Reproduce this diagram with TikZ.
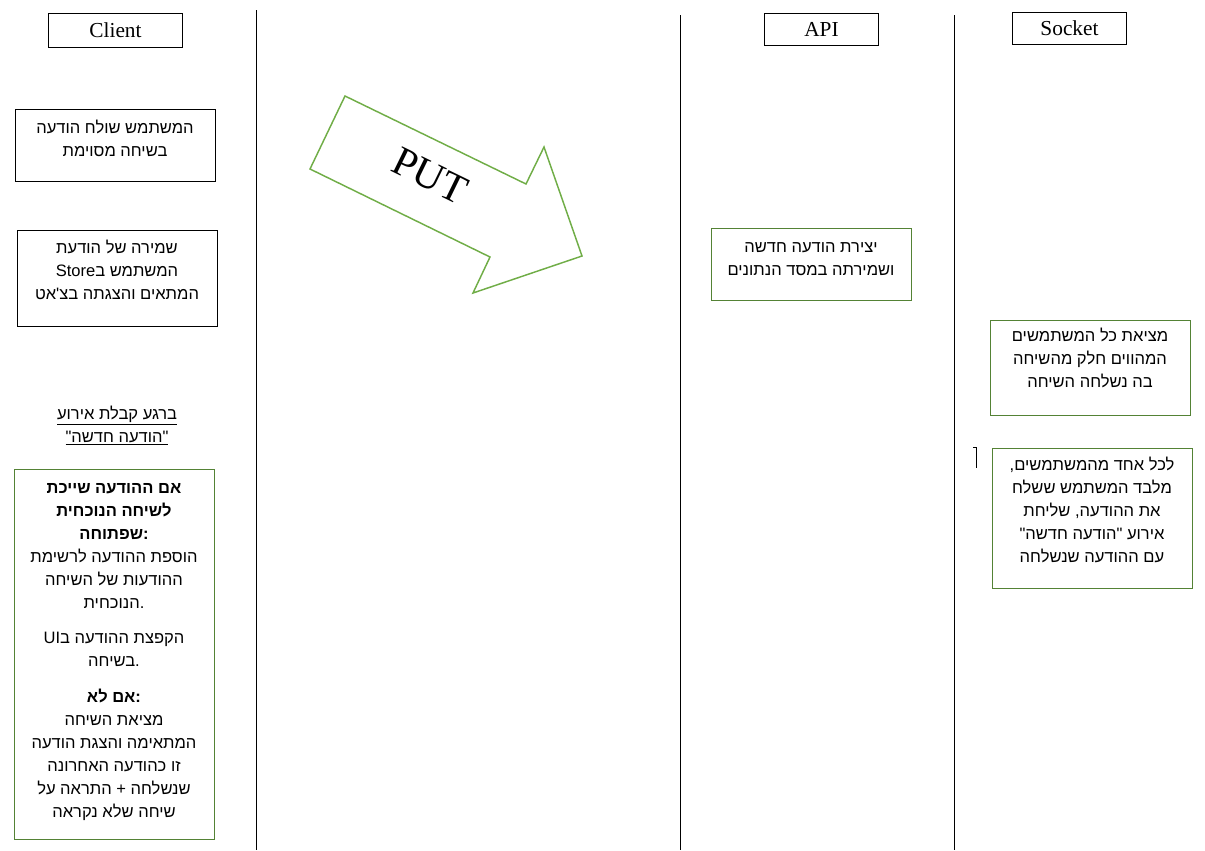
\documentclass[tikz,border=0pt]{standalone}
\usepackage{fontspec}
\setmainfont{Liberation Serif}
\newfontfamily\hebfont[Script=Hebrew]{Liberation Sans}
\usetikzlibrary{positioning}
\TeXXeTstate=1
\definecolor{boxgreen}{RGB}{84,130,53}
\definecolor{arrowgreen}{RGB}{112,173,71}
\newcommand\heb[1]{\beginR#1\endR}
\newcommand\lat[1]{\beginL#1\endL}
\newcommand\sep[1]{\mbox{#1}}
\tikzset{
head/.style={
draw,
line width=0.75pt,
inner sep=0pt,
minimum height=24pt,
font=\fontsize{16}{18}\selectfont},
frame/.style={
draw,
line width=0.75pt,
inner sep=0pt,
anchor=north west,
minimum width=150pt},
greenframe/.style={frame, draw=boxgreen},
txt/.style={
inner sep=0pt,
align=center,
font=\hebfont\fontsize{12.4}{17.25}\selectfont},
lane/.style={line width=0.75pt}}

\begin{document}
\begin{tikzpicture}[x=0.75pt, y=-0.75pt]
\useasboundingbox (0,0) rectangle (1205,850);
% lanes
\draw[lane] (256,10) -- (256,850);
\draw[lane] (680,15) -- (680,850);
\draw[lane] (954,15) -- (954,850);
\draw[lane] (973,447) -- (976,447) -- (976,468);
% headers
\node[head, minimum width=100pt, minimum height=26pt] (client) at (115.5,30.5) {Client};
\node[head, minimum width=86pt] (api) at (821.5,29.5) {API};
\node[head, minimum width=86pt] (socket) at (1069.5,28.5) {Socket};
% client
\node[frame, minimum height=54pt] (send) at (15,109) {};
\node[txt] (sendtxt) at (115,138.5) {\heb{המשתמש שולח הודעה}\\ \heb{בשיחה מסוימת}};
\node[frame, minimum height=72pt] (store) at (17,230) {};
\node[txt] (storetxt) at (117,270) {\heb{שמירה של הודעת}\\ \heb{המשתמש ב\lat{Store}}\\ \heb{המתאים והצגתה בצ'אט}};
\node[txt] (event) at (117,425.5) {\underline{\heb{ברגע קבלת אירוע}}\\ \underline{\heb{\sep{"}הודעה חדשה\sep{"}}}};
\node[greenframe, minimum height=277.5pt] (show) at (14,469) {};
\node[txt] (showtxt) at (114,652) {\textbf{\heb{אם ההודעה שייכת}}\\ \textbf{\heb{לשיחה הנוכחית}}\\ \textbf{\heb{\sep{:}שפתוחה}}\\
\heb{הוספת ההודעה לרשימת}\\ \heb{ההודעות של השיחה}\\ \heb{\sep{.}הנוכחית}\\[9.4pt]
\heb{הקפצת ההודעה ב\lat{UI}}\\ \heb{\sep{.}בשיחה}\\[9.4pt]
\textbf{\heb{\sep{:}אם לא}}\\ \heb{מציאת השיחה}\\ \heb{המתאימה והצגת הודעה}\\ \heb{זו כהודעה האחרונה}\\ \heb{שנשלחה + התראה על}\\ \heb{שיחה שלא נקראה}};
% PUT arrow
\draw[arrowgreen, line width=1.1pt, line join=miter] (345,96) -- (310,169) -- (490,257) -- (473,293) -- (582,256) -- (544,147) -- (526,184) -- cycle;
\node[font=\fontsize{31}{34}\selectfont, rotate=-26] (put) at (430,176) {PUT};
% api
\node[greenframe, minimum height=54pt] (save) at (711,228) {};
\node[txt] (savetxt) at (811,259.5) {\heb{יצירת הודעה חדשה}\\ \heb{ושמירתה במסד הנתונים}};
% socket
\node[greenframe, minimum height=71.25pt] (find) at (990,320) {};
\node[txt] (findtxt) at (1090,358) {\heb{מציאת כל המשתמשים}\\ \heb{המהווים חלק מהשיחה}\\ \heb{בה נשלחה השיחה}};
\node[greenframe, minimum height=105pt] (emit) at (992,448) {};
\node[txt] (emittxt) at (1092,510) {\heb{לכל אחד מהמשתמשים\sep{,}}\\ \heb{מלבד המשתמש ששלח}\\ \heb{את ההודעה\sep{,} שליחת}\\ \heb{אירוע \sep{"}הודעה חדשה\sep{"}}\\ \heb{עם ההודעה שנשלחה}};
\end{tikzpicture}
\end{document}
